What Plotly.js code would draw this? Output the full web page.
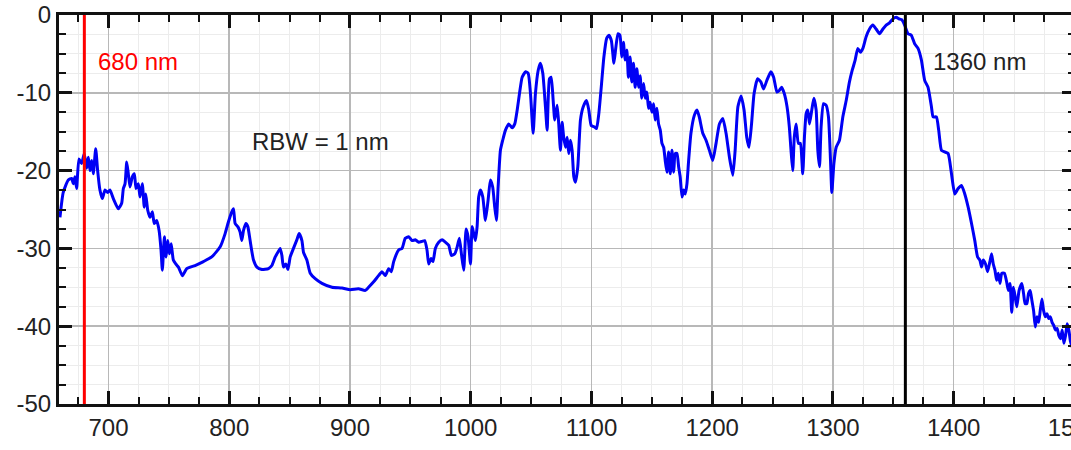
<!DOCTYPE html>
<html>
<head>
<meta charset="utf-8">
<script src="https://cdn.plot.ly/plotly-3.0.1.min.js"></script>
<style>
html, body { margin:0; padding:0; overflow:hidden; background:#fff; }
#chart { width:1075px; height:450px; }
</style>
</head>
<body>
<div id="chart"></div>
<script>
// Wavelength (nm) and power (dB)
const wavelength = [
  659.8, 662.5, 666.7, 669.5, 670.8, 672.2, 673.6, 675.5, 677.7, 679.9,
  681.9, 683.3, 684.7, 686.1, 687.4, 689.4, 691.0, 692.9, 694.9, 697.1,
  699.3, 701.2, 704.0, 708.1, 710.9, 712.3, 713.7, 715.1, 716.4, 717.8,
  719.7, 721.4, 722.8, 724.7, 726.1, 728.0, 729.6, 730.8, 732.5, 734.4,
  736.3, 737.9, 739.9, 741.9, 743.5, 744.6, 746.3, 747.7, 749.1, 750.4,
  751.9, 753.7, 755.7, 757.9, 761.2, 764.8, 771.7, 778.6, 785.5, 792.5,
  796.6, 799.3, 802.1, 803.5, 804.9, 807.1, 809.0, 810.4, 811.8, 813.8,
  815.4, 817.3, 820.1, 822.9, 827.0, 832.5, 835.3, 838.1, 840.3, 842.2,
  843.6, 844.9, 846.9, 848.6, 850.5, 853.2, 856.0, 857.9, 860.2, 861.5,
  864.3, 867.1, 871.2, 876.8, 885.1, 893.4, 900.2, 907.1, 912.7, 915.4,
  919.6, 923.7, 926.5, 929.3, 932.0, 934.2, 936.2, 940.3, 943.1, 945.8,
  948.6, 951.4, 954.1, 956.9, 959.7, 961.9, 963.8, 965.2, 967.2, 968.8,
  970.7, 973.5, 976.3, 979.0, 981.8, 984.0, 986.8, 988.8, 990.6, 992.3,
  994.2, 996.2, 997.8, 999.8, 1001.2, 1002.5, 1003.9, 1005.3, 1006.6, 1008.1,
  1010.0, 1012.2, 1014.4, 1016.3, 1018.2, 1019.9, 1021.3, 1022.7, 1024.6, 1026.5,
  1028.8, 1031.5, 1034.3, 1036.5, 1038.5, 1040.4, 1042.6, 1045.4, 1047.6, 1049.5,
  1051.7, 1053.6, 1055.9, 1057.7, 1059.7, 1061.9, 1063.3, 1065.2, 1066.6, 1068.3,
  1069.6, 1071.6, 1072.9, 1074.3, 1075.7, 1077.0, 1078.5, 1079.9, 1081.2, 1082.6,
  1084.0, 1085.4, 1086.8, 1088.7, 1090.9, 1093.2, 1095.9, 1097.8, 1099.8, 1102.6,
  1104.2, 1106.1, 1108.1, 1110.3, 1112.6, 1114.5, 1116.5, 1118.6, 1120.1, 1122.0,
  1123.6, 1125.1, 1126.5, 1127.8, 1129.3, 1130.6, 1132.0, 1133.4, 1134.8, 1136.2,
  1137.6, 1139.0, 1140.3, 1141.7, 1143.2, 1144.5, 1145.9, 1147.3, 1148.6, 1150.1,
  1151.5, 1152.8, 1154.2, 1155.6, 1157.0, 1158.4, 1159.8, 1161.1, 1162.5, 1163.9,
  1165.3, 1166.7, 1168.1, 1169.4, 1170.8, 1172.2, 1173.5, 1175.0, 1176.4, 1177.7,
  1179.1, 1180.5, 1182.4, 1185.2, 1187.4, 1189.3, 1192.2, 1194.9, 1197.7, 1200.5,
  1203.2, 1206.0, 1208.8, 1211.5, 1214.3, 1217.1, 1219.0, 1221.3, 1224.0, 1226.4,
  1228.6, 1230.5, 1232.6, 1234.7, 1237.6, 1240.3, 1242.6, 1245.3, 1248.6, 1250.9,
  1253.6, 1255.6, 1257.5, 1259.7, 1262.0, 1263.9, 1265.3, 1266.7, 1268.0, 1269.5,
  1271.4, 1273.0, 1275.0, 1276.4, 1277.8, 1279.2, 1280.6, 1282.5, 1284.2, 1286.1,
  1287.5, 1288.9, 1290.2, 1292.2, 1294.4, 1296.3, 1298.0, 1299.1, 1300.8, 1302.7,
  1305.4, 1308.2, 1311.0, 1313.7, 1316.0, 1318.4, 1320.6, 1322.8, 1324.8, 1327.5,
  1330.3, 1333.1, 1335.8, 1338.6, 1341.4, 1344.1, 1346.9, 1349.7, 1352.4, 1354.7,
  1357.0, 1359.4, 1362.2, 1364.9, 1367.7, 1370.5, 1373.3, 1376.0, 1378.8, 1381.6,
  1383.0, 1385.7, 1387.6, 1389.9, 1392.6, 1395.4, 1398.2, 1400.9, 1403.7, 1406.5,
  1409.2, 1412.0, 1414.8, 1417.5, 1419.8, 1421.7, 1423.1, 1424.5, 1426.4, 1428.1,
  1430.0, 1431.4, 1432.8, 1434.2, 1435.6, 1437.0, 1438.4, 1439.8, 1442.0, 1443.9,
  1445.3, 1446.7, 1448.1, 1449.5, 1450.9, 1452.3, 1454.2, 1456.5, 1457.9, 1459.2,
  1460.6, 1462.0, 1463.4, 1464.8, 1466.2, 1467.6, 1469.0, 1470.4, 1471.7, 1473.1,
  1474.5, 1475.9, 1477.3, 1478.7, 1480.1, 1481.5, 1482.9, 1484.3, 1485.7, 1487.1,
  1488.5, 1489.9, 1491.3, 1492.7, 1494.0, 1495.4, 1496.8, 1498.2
];
const power = [
  -26.0, -22.8, -21.2, -21.0, -21.7, -20.8, -22.3, -18.5, -19.1, -17.8,
  -19.7, -18.3, -20.0, -18.7, -20.4, -17.2, -20.0, -22.5, -23.6, -22.5,
  -22.8, -22.5, -23.6, -24.9, -24.2, -22.3, -21.7, -18.9, -20.4, -22.1,
  -20.8, -20.4, -22.3, -21.7, -23.4, -21.7, -24.7, -23.0, -25.1, -26.0,
  -25.3, -26.8, -26.4, -27.7, -30.2, -32.8, -28.5, -31.1, -29.0, -30.7,
  -29.4, -31.5, -32.0, -32.4, -33.5, -32.6, -32.2, -31.7, -31.1, -29.8,
  -28.1, -26.6, -25.3, -24.9, -26.8, -27.2, -27.9, -29.0, -27.7, -26.8,
  -27.2, -29.0, -31.5, -32.4, -32.7, -32.6, -32.2, -31.1, -30.5, -30.0,
  -30.9, -32.4, -32.0, -32.7, -31.1, -30.0, -28.9, -28.1, -29.0, -30.5,
  -31.5, -33.2, -33.9, -34.5, -35.0, -35.1, -35.3, -35.2, -35.4, -35.0,
  -34.3, -33.5, -33.0, -33.5, -32.6, -33.0, -31.7, -30.2, -30.0, -28.7,
  -28.5, -29.0, -28.9, -29.2, -29.1, -29.0, -30.2, -32.0, -31.3, -31.7,
  -30.0, -29.2, -28.9, -29.2, -29.6, -30.9, -30.7, -29.8, -28.7, -30.7,
  -32.8, -27.5, -28.5, -32.0, -27.2, -28.1, -29.0, -27.2, -23.4, -22.5,
  -23.4, -26.4, -23.8, -21.2, -22.1, -24.7, -26.4, -22.1, -17.4, -16.1,
  -14.8, -14.0, -14.5, -14.0, -12.2, -10.1, -8.0, -7.3, -7.5, -10.1,
  -15.2, -10.1, -7.1, -6.2, -7.5, -11.8, -14.8, -8.2, -8.0, -11.0,
  -13.5, -11.6, -14.0, -17.4, -13.8, -15.7, -17.0, -15.7, -17.8, -16.1,
  -17.4, -20.8, -21.5, -19.5, -13.5, -11.8, -11.0, -12.2, -14.2, -14.4,
  -14.6, -12.7, -9.3, -5.4, -3.0, -2.6, -3.3, -6.2, -4.3, -2.4,
  -2.6, -5.4, -3.5, -5.8, -4.5, -8.0, -5.4, -8.6, -6.2, -9.3,
  -6.9, -9.3, -7.8, -10.7, -8.8, -10.7, -9.9, -12.0, -11.2, -12.5,
  -11.4, -13.5, -12.0, -14.0, -14.8, -16.5, -17.0, -18.7, -20.2, -17.6,
  -20.4, -17.4, -20.2, -17.8, -17.8, -19.5, -20.8, -23.4, -22.5, -23.0,
  -21.7, -18.7, -15.2, -12.9, -12.2, -13.1, -15.2, -16.1, -17.4, -18.7,
  -16.5, -14.0, -13.3, -15.2, -18.3, -20.6, -17.4, -11.8, -10.4, -12.2,
  -15.7, -17.0, -14.0, -10.1, -8.2, -8.6, -9.5, -8.4, -7.3, -8.0,
  -9.9, -9.7, -9.3, -10.1, -11.8, -14.4, -17.4, -20.0, -15.7, -14.0,
  -16.5, -16.5, -20.4, -15.7, -12.7, -12.2, -14.0, -12.2, -10.7, -12.2,
  -17.4, -19.5, -14.4, -11.4, -11.6, -13.1, -18.7, -22.8, -19.1, -17.0,
  -16.1, -13.1, -11.0, -8.6, -7.1, -5.8, -4.3, -4.8, -4.3, -2.8,
  -1.8, -1.3, -1.8, -2.4, -1.8, -1.3, -1.0, -0.5, -0.3, -0.5,
  -0.6, -1.3, -2.4, -2.6, -3.7, -4.3, -5.8, -8.4, -9.3, -11.8,
  -13.1, -13.1, -14.8, -17.4, -17.6, -17.8, -20.4, -23.0, -22.3, -21.9,
  -23.0, -24.7, -26.8, -29.0, -31.1, -31.5, -32.4, -31.5, -32.0, -33.0,
  -31.7, -30.7, -32.0, -32.8, -34.1, -33.2, -34.5, -33.2, -33.2, -34.3,
  -35.4, -34.5, -38.2, -35.0, -36.2, -37.5, -35.4, -34.5, -35.8, -37.1,
  -37.1, -35.8, -35.4, -36.7, -38.0, -40.1, -38.8, -39.5, -38.0, -36.5,
  -38.0, -38.8, -38.4, -39.0, -38.8, -39.5, -39.9, -40.5, -40.3, -41.2,
  -41.6, -40.5, -42.2, -41.2, -39.7, -40.5, -42.0, -42.7
];

// Marker wavelengths (vertical lines) and labels
const markerWavelengths = [680, 1360];
const markerColors = ['#ff0000', '#000000'];
const markerLabels = ['680 nm', '1360 nm'];
const markerLabelX = [690.0, 1381.5];
const markerLabelY = [-6.0, -6.0];
const noteText = 'RBW = 1 nm';
const noteX = 817.3;
const noteY = -16.3;

// Axis ticks
const xRange = [659, 1500.5];
const yTickVals = [0, -10, -20, -30, -40, -50];
const yTickText = ['0', '-10', '-20', '-30', '-40', '-50'];

const axisColor = '#111';
const majorGrid = '#b8b8b8';
const minorGrid = '#ececec';

const trace = {
  x: wavelength, y: power, type: 'scatter', mode: 'lines',
  line: {color: '#0000f5', width: 3, shape: 'spline', smoothing: 0.5}, hoverinfo: 'skip'
};

const shapes = markerWavelengths.map((w, i) => ({
  type: 'line', xref: 'x', yref: 'paper', x0: w, x1: w, y0: 0, y1: 1,
  line: {color: markerColors[i], width: 3}, layer: 'above'
}));

const annotations = markerLabels.map((t, i) => ({
  x: markerLabelX[i], y: markerLabelY[i], xref: 'x', yref: 'y',
  text: t, showarrow: false, xanchor: 'left', yanchor: 'middle',
  font: {size: 24, color: i === 0 ? '#ff0000' : '#222'}
}));
annotations.push({
  x: noteX, y: noteY, xref: 'x', yref: 'y', text: noteText, showarrow: false,
  xanchor: 'left', yanchor: 'middle', font: {size: 24, color: '#222'}
});

const layout = {
  width: 1075, height: 450,
  margin: {l: 59, r: 0, t: 15, b: 46, pad: 0},
  paper_bgcolor: '#fff', plot_bgcolor: '#fff',
  showlegend: false,
  font: {family: 'Liberation Sans, Arial, sans-serif', size: 24, color: '#222'},
  xaxis: {
    range: xRange, tickmode: 'linear', tick0: 0, dtick: 100,
    ticks: 'inside', ticklen: 13, tickwidth: 3, tickcolor: axisColor,
    showline: true, linewidth: 3, linecolor: axisColor, mirror: 'allticks',
    showgrid: true, gridcolor: majorGrid, gridwidth: 1.5, zeroline: false,
    ticklabeloverflow: 'allow',
    tickfont: {size: 24, color: '#222'},
    minor: {tickmode: 'linear', tick0: 0, dtick: 25, ticks: 'inside', ticklen: 7, tickwidth: 2,
            tickcolor: axisColor, showgrid: true, gridcolor: minorGrid, gridwidth: 1}
  },
  yaxis: {
    range: [-50, 0], tickmode: 'array', tickvals: yTickVals, ticktext: yTickText,
    ticks: 'inside', ticklen: 13, tickwidth: 3, tickcolor: axisColor,
    showline: true, linewidth: 3, linecolor: axisColor, mirror: 'allticks',
    showgrid: true, gridcolor: majorGrid, gridwidth: 1.5, zeroline: false,
    ticklabeloverflow: 'allow',
    tickfont: {size: 24, color: '#222'},
    minor: {tickmode: 'linear', tick0: 0, dtick: 2.5, ticks: 'inside', ticklen: 7, tickwidth: 2,
            tickcolor: axisColor, showgrid: true, gridcolor: minorGrid, gridwidth: 1}
  },
  shapes: shapes,
  annotations: annotations
};

Plotly.newPlot('chart', [trace], layout, {displayModeBar: false, staticPlot: true});
</script>
</body>
</html>
